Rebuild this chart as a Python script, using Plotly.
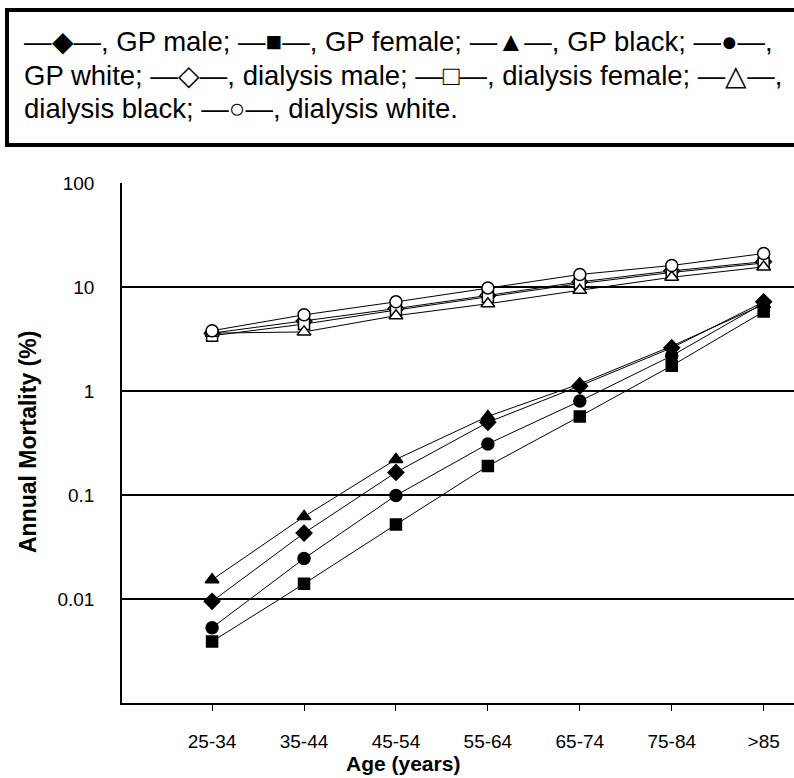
import plotly.graph_objects as go

ages = ["25-34", "35-44", "45-54", "55-64", "65-74", "75-84", ">85"]

gp_male = [0.0095, 0.043, 0.165, 0.50, 1.12, 2.6, 7.2]
gp_female = [0.0039, 0.014, 0.052, 0.19, 0.57, 1.75, 5.8]
gp_black = [0.0153, 0.062, 0.22, 0.57, 1.17, 2.7, 6.8]
gp_white = [0.0053, 0.0245, 0.099, 0.31, 0.80, 2.18, 7.0]

dial_male = [3.6, 4.7, 6.2, 8.3, 11.2, 14.3, 17.5]
dial_female = [3.4, 4.4, 6.0, 8.0, 10.8, 13.8, 17.0]
dial_black = [3.6, 3.7, 5.3, 6.9, 9.3, 12.4, 15.6]
dial_white = [3.8, 5.4, 7.2, 9.8, 13.2, 16.1, 21.0]

y_ticks = [0.01, 0.1, 1, 10, 100]
y_ticktext = ["0.01", "0.1", "1", "10", "100"]

legend_lines = [
    "\u2014\u25c6\u2014, GP male; \u2014\u25a0\u2014, GP female; \u2014\u25b2\u2014, GP black; \u2014\u25cf\u2014,",
    "GP white; \u2014\u25c7\u2014, dialysis male; \u2014\u25a1\u2014, dialysis female; \u2014\u25b3\u2014,",
    "dialysis black; \u2014\u25cb\u2014, dialysis white.",
]

FONT = "Liberation Sans, Arial, sans-serif"
W, H = 794, 778
L, R, T, B = 122, 794, 183, 703


def px(x):
    return (x - L) / (R - L)


def py(y):
    return (B - y) / (B - T)


xpos = list(range(1, len(ages) + 1))

series = [
    (gp_male, "diamond", "black", 12),
    (gp_female, "square", "black", 11),
    (gp_black, "triangle-up", "black", 12),
    (gp_white, "circle", "black", 12),
    (dial_male, "diamond", "white", 12),
    (dial_female, "square", "white", 11),
    (dial_black, "triangle-up", "white", 12),
    (dial_white, "circle", "white", 12),
]

fig = go.Figure()
for vals, sym, fill, size in series:
    fig.add_trace(go.Scatter(
        x=xpos, y=vals, mode="lines+markers",
        line=dict(color="black", width=1),
        marker=dict(symbol=sym, size=size, color=fill,
                    line=dict(color="black", width=1.5)),
        showlegend=False,
    ))

fig.update_layout(
    width=W, height=H,
    margin=dict(l=L, r=W - R, t=T, b=H - B),
    paper_bgcolor="white", plot_bgcolor="white",
    font=dict(family=FONT, color="black"),
    xaxis=dict(
        range=[0.02, 7.33], tickvals=xpos, ticktext=ages,
        showgrid=False, zeroline=False, showline=True, linecolor="black", linewidth=1.5,
        ticks="outside", ticklen=6, tickcolor="black",
        tickfont=dict(size=19, family=FONT), ticklabelstandoff=14,
    ),
    yaxis=dict(
        type="log", range=[-3, 2], tickvals=y_ticks, ticktext=y_ticktext,
        showgrid=True, gridcolor="black", gridwidth=1.5,
        zeroline=False, showline=True, linecolor="black", linewidth=1.5,
        ticks="inside", ticklen=5, tickcolor="black",
        tickfont=dict(size=19, family=FONT), ticklabelstandoff=22,
    ),
)

# titles
fig.add_annotation(text="<b>Age (years)</b>", xref="paper", yref="paper",
                   x=px(403), y=py(763), showarrow=False,
                   font=dict(size=21, family=FONT), xanchor="center", yanchor="middle")
fig.add_annotation(text="<b>Annual Mortality (%)</b>", xref="paper", yref="paper",
                   x=px(28), y=py(442), showarrow=False, textangle=-90,
                   font=dict(size=23, family=FONT), xanchor="center", yanchor="middle")

# legend box
fig.add_shape(type="rect", xref="paper", yref="paper",
              x0=px(7), x1=px(830), y0=py(10), y1=py(145),
              line=dict(color="black", width=4), fillcolor="rgba(0,0,0,0)")
for i, (line, yc) in enumerate(zip(legend_lines, [41, 75, 108])):
    fig.add_annotation(text=line, xref="paper", yref="paper",
                       x=px(22), y=py(yc), showarrow=False,
                       xanchor="left", yanchor="middle",
                       font=dict(size=27.5, family=FONT))

fig.write_html("out.html")
